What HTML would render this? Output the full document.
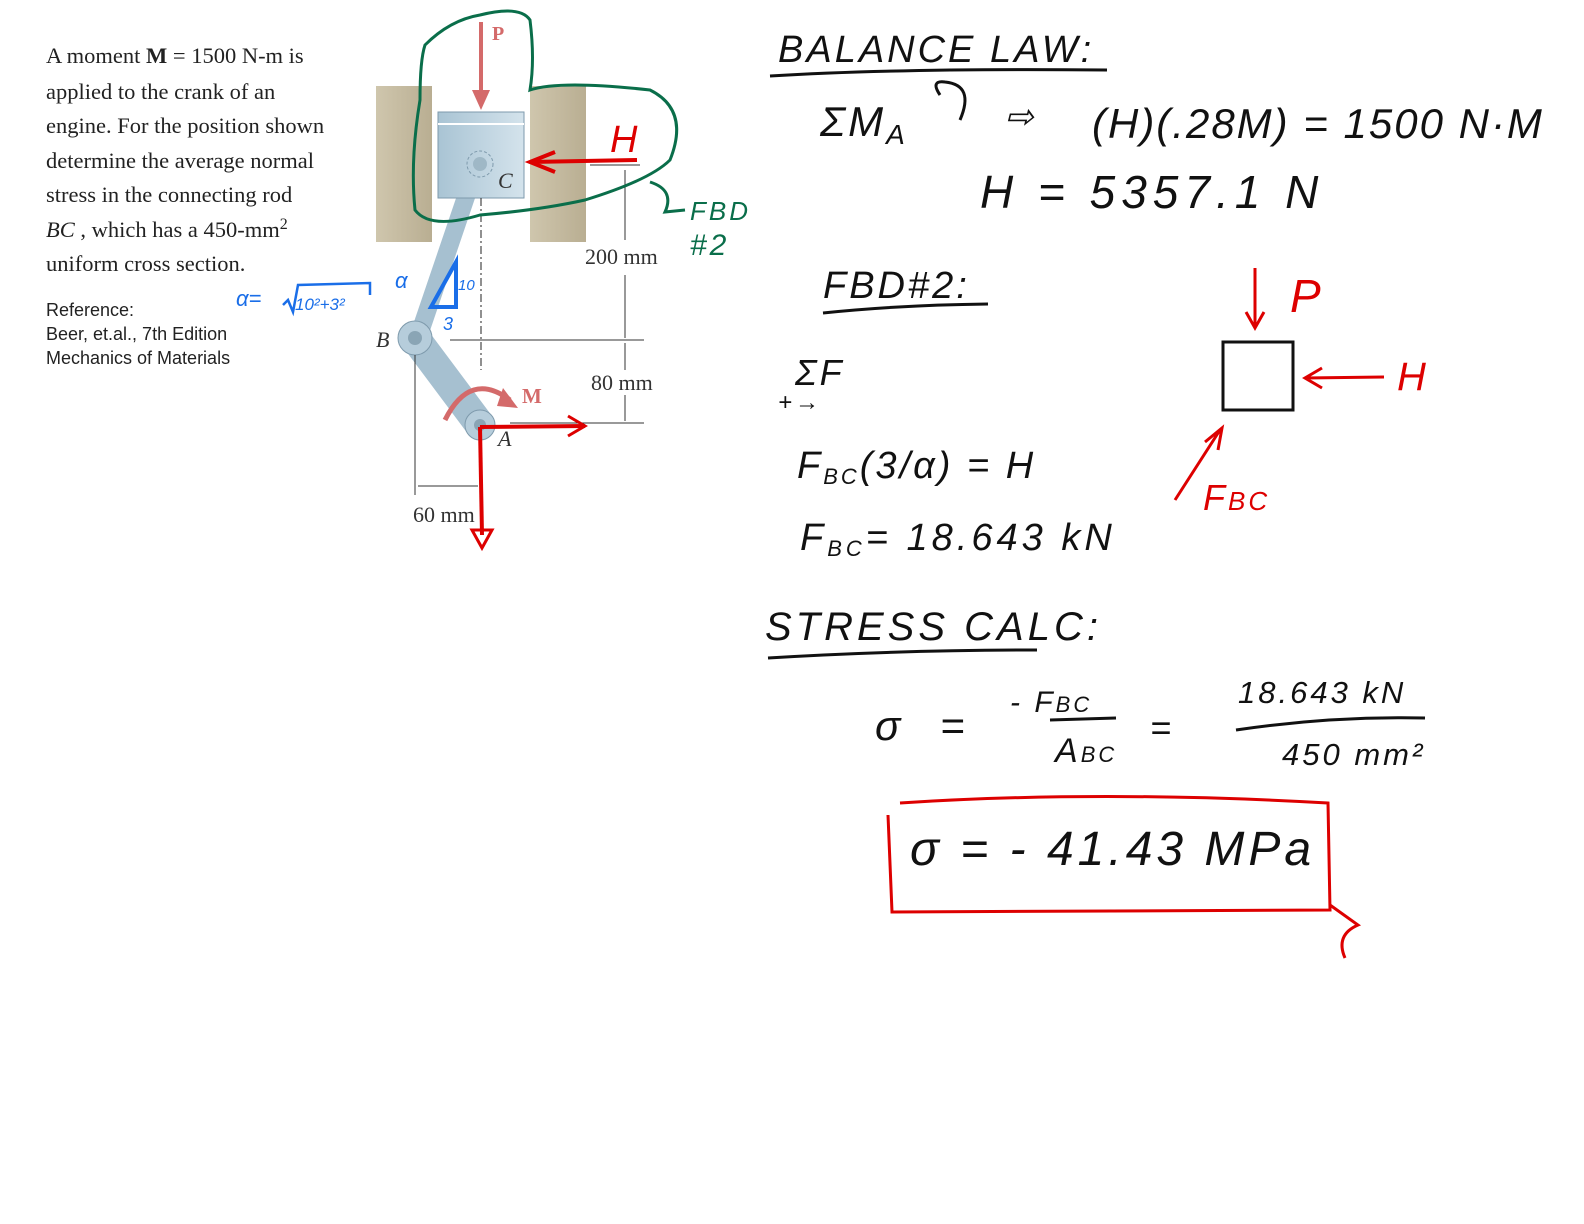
<!DOCTYPE html>
<html><head><meta charset="utf-8"><style>
body{margin:0;background:#fff;width:1584px;height:1224px;overflow:hidden}
svg{display:block}
.s{font-family:"Liberation Serif",serif}
.h{font-family:"Liberation Sans",sans-serif;font-style:italic;letter-spacing:3px}
</style></head><body>
<svg width="1584" height="1224" viewBox="0 0 1584 1224" xmlns="http://www.w3.org/2000/svg">
<defs><linearGradient id="g" x1="0" x2="1"><stop offset="0" stop-color="#cfc6ad"/><stop offset="1" stop-color="#b9ae92"/></linearGradient>
<linearGradient id="p" x1="0" x2="1"><stop offset="0" stop-color="#a9c4d4"/><stop offset="1" stop-color="#d4e3ec"/></linearGradient></defs>
<g class="s" font-size="22.5" fill="#222">
<text x="46" y="63">A moment  <tspan font-weight="bold">M</tspan>  = 1500 N-m is</text>
<text x="46" y="99">applied to the crank of an</text>
<text x="46" y="133">engine. For the position shown</text>
<text x="46" y="168">determine the average normal</text>
<text x="46" y="202">stress in the connecting rod</text>
<text x="46" y="237"><tspan font-style="italic">BC</tspan> , which has a 450-mm<tspan font-size="16" dy="-8">2</tspan></text>
<text x="46" y="271">uniform cross section.</text>
</g>
<g font-family="Liberation Sans,sans-serif" font-size="18" fill="#222">
<text x="46" y="316">Reference:</text>
<text x="46" y="340">Beer, et.al., 7th Edition</text>
<text x="46" y="364">Mechanics of Materials</text>
</g>
<rect x="376" y="86" width="56" height="156" fill="url(#g)"/>
<rect x="530" y="86" width="56" height="156" fill="url(#g)"/>
<line x1="470" y1="185" x2="418" y2="338" stroke="#a6c0d0" stroke-width="18"/>
<line x1="415" y1="338" x2="480" y2="425" stroke="#a6c0d0" stroke-width="30" stroke-linecap="round"/>
<rect x="438" y="112" width="86" height="86" fill="url(#p)" stroke="#7e9aac"/>
<line x1="438" y1="124" x2="524" y2="124" stroke="#fff" stroke-width="2"/>
<circle cx="480" cy="164" r="13" fill="none" stroke="#7e9aac" stroke-dasharray="3 2"/>
<circle cx="480" cy="164" r="7" fill="#9fb8c6"/>
<circle cx="415" cy="338" r="17" fill="#b6cddb" stroke="#7e9aac"/><circle cx="415" cy="338" r="7" fill="#8aa5b5"/>
<circle cx="480" cy="425" r="15" fill="#b6cddb" stroke="#7e9aac"/><circle cx="480" cy="425" r="6" fill="#8aa5b5"/>
<line x1="481" y1="198" x2="481" y2="370" stroke="#222" stroke-dasharray="8 3 2 3"/>
<g stroke="#333" fill="none">
<line x1="590" y1="165" x2="640" y2="165"/><line x1="450" y1="340" x2="644" y2="340"/><line x1="510" y1="423" x2="644" y2="423"/>
<line x1="625" y1="170" x2="625" y2="240"/><line x1="625" y1="275" x2="625" y2="338"/>
<line x1="625" y1="343" x2="625" y2="370"/><line x1="625" y1="395" x2="625" y2="421"/>
<line x1="415" y1="355" x2="415" y2="495"/><line x1="418" y1="486" x2="478" y2="486"/>
</g>
<g class="s" font-size="22" fill="#333">
<text x="585" y="264">200 mm</text><text x="591" y="390">80 mm</text><text x="413" y="522">60 mm</text>
<text x="376" y="347" font-style="italic">B</text><text x="498" y="188" font-style="italic">C</text><text x="498" y="446" font-style="italic">A</text>
</g>
<line x1="481" y1="22" x2="481" y2="95" stroke="#d46a6a" stroke-width="4"/>
<polygon points="472,90 490,90 481,110" fill="#d46a6a"/>
<text x="492" y="40" class="s" font-size="20" font-weight="bold" fill="#d46a6a">P</text>
<path d="M445,420 Q470,370 510,400" stroke="#d46a6a" stroke-width="5" fill="none"/>
<polygon points="503,388 518,408 497,406" fill="#d46a6a"/>
<text x="522" y="403" class="s" font-size="21" font-weight="bold" fill="#d46a6a">M</text>
<path d="M425,45 Q450,20 480,15 Q520,5 530,20 Q535,60 530,90 Q560,80 650,90 Q690,110 670,160 Q650,180 585,200 Q540,210 480,215 Q430,230 415,210 Q410,160 420,100 Q420,60 425,45 Z M650,182 Q675,190 665,212 L685,210" stroke="#0a6e4a" stroke-width="3" fill="none"/>
<text x="690" y="220" class="h" font-size="26" fill="#0a6e4a">FBD</text>
<text x="690" y="255" class="h" font-size="30" fill="#0a6e4a">#2</text>
<line x1="530" y1="162" x2="637" y2="160" stroke="#d00" stroke-width="4"/>
<path d="M555,152 L530,162 L555,172" stroke="#d00" stroke-width="4" fill="none"/>
<text x="610" y="152" class="h" font-size="38" fill="#d00">H</text>
<line x1="480" y1="427" x2="585" y2="426" stroke="#d00" stroke-width="4"/><path d="M568,416 L585,426 L568,436" stroke="#d00" stroke-width="3" fill="none"/>
<line x1="480" y1="427" x2="482" y2="535" stroke="#d00" stroke-width="4"/><path d="M472,530 L482,548 L492,530 Z" stroke="#d00" stroke-width="3" fill="none"/>
<g fill="#1a6ee8" class="h" letter-spacing="0">
<text x="236" y="306" font-size="22" letter-spacing="0">α=</text><text x="295" y="310" font-size="17" letter-spacing="0">10²+3²</text>
<text x="395" y="288" font-size="22">α</text><text x="458" y="290" font-size="15" letter-spacing="0">10</text><text x="443" y="330" font-size="18">3</text>
</g>
<path d="M283,305 L288,300 L293,312 L298,285 L370,283 L370,295" stroke="#1a6ee8" stroke-width="2.5" fill="none"/>
<polygon points="431,307 456,262 456,307" stroke="#1a6ee8" stroke-width="4" fill="none"/>
<g class="h" fill="#111">
<text x="778" y="62" font-size="38" letter-spacing="3">BALANCE LAW:</text>
<text x="820" y="136" font-size="42">ΣM<tspan font-size="28" dy="8">A</tspan></text>
<text x="1005" y="128" font-size="34">⇨</text>
<text x="1092" y="138" font-size="42" letter-spacing="2">(H)(.28M) = 1500 N·M</text>
<text x="980" y="208" font-size="46" letter-spacing="6">H = 5357.1 N</text>
<text x="823" y="298" font-size="38">FBD#2:</text>
<text x="795" y="385" font-size="36">ΣF</text><text x="778" y="410" font-size="24">+→</text>
<text x="797" y="478" font-size="38">F<tspan font-size="22" dy="6">BC</tspan><tspan dy="-6">(3/α) = H</tspan></text>
<text x="800" y="550" font-size="38" letter-spacing="4">F<tspan font-size="22" dy="6">BC</tspan><tspan dy="-6">= 18.643 kN</tspan></text>
<text x="765" y="640" font-size="40" letter-spacing="4">STRESS CALC:</text>
<text x="875" y="740" font-size="42" letter-spacing="14">σ  =</text>
<text x="1010" y="712" font-size="30">- F<tspan font-size="22">BC</tspan></text>
<text x="1055" y="762" font-size="34">A<tspan font-size="22">BC</tspan></text>
<text x="1150" y="740" font-size="36">=</text>
<text x="1238" y="703" font-size="31">18.643 kN</text>
<text x="1282" y="765" font-size="31">450 mm²</text>
<text x="910" y="865" font-size="48" letter-spacing="4">σ = - 41.43 MPa</text>
</g>
<g stroke="#111" stroke-width="3" fill="none">
<path d="M770,76 Q900,68 1107,70"/><path d="M823,313 Q900,305 988,304"/><path d="M768,658 Q900,650 1037,650"/>
<path d="M1050,720 L1116,718"/><path d="M1236,730 Q1330,716 1425,718"/>
<rect x="1223" y="342" width="70" height="68"/>
<path d="M940,95 Q930,80 945,82 Q975,85 960,120"/>
</g>
<g stroke="#d00" stroke-width="3" fill="none">
<path d="M1255,268 L1255,325 M1246,312 L1255,328 L1264,312"/>
<path d="M1384,377 L1305,378 M1322,368 L1305,378 L1322,388"/>
<path d="M1175,500 L1220,430 M1205,442 L1222,428 L1218,450"/>
<path d="M900,803 Q1100,790 1328,803 L1330,910 Q1100,912 892,912 L888,815"/>
<path d="M1330,905 L1358,925 Q1335,935 1345,958"/>
</g>
<g class="h" fill="#d00"><text x="1290" y="312" font-size="46">P</text><text x="1397" y="390" font-size="40">H</text><text x="1203" y="510" font-size="36">F<tspan font-size="26">BC</tspan></text></g>
</svg>
</body></html>
